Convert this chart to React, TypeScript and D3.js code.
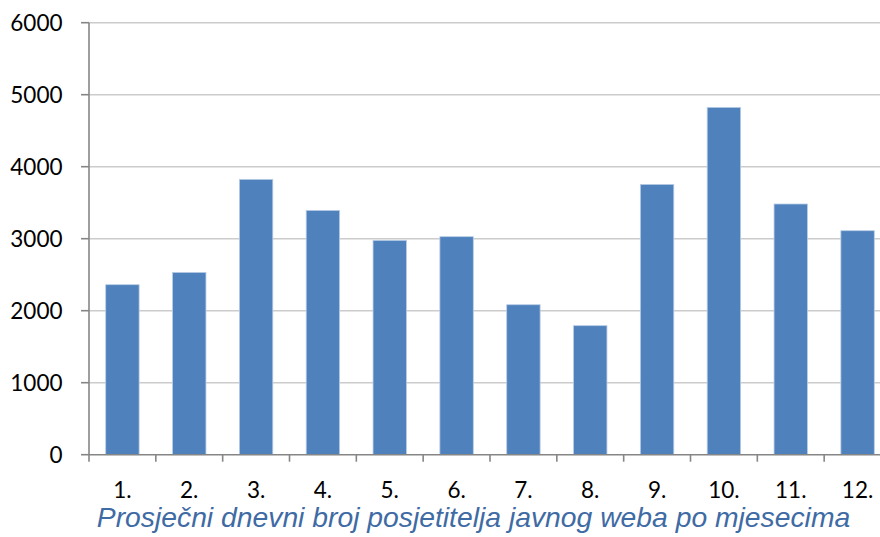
import React from "react";
import * as d3 from "d3";

const months = ["1.", "2.", "3.", "4.", "5.", "6.", "7.", "8.", "9.", "10.", "11.", "12."];
const visitors = [2361, 2532, 3824, 3393, 2977, 3028, 2083, 1792, 3754, 4824, 3482, 3111];
const yTicks = [0, 1000, 2000, 3000, 4000, 5000, 6000];
const title = "Prosječni dnevni broj posjetitelja javnog weba po mjesecima";

export default function App() {
  const W = 880, H = 537;
  const left = 89, right = 891, top = 22.7, bottom = 454.7;
  const x = d3.scaleBand<string>().domain(months).range([left, right]).paddingInner(0.5).paddingOuter(0.25);
  const y = d3.scaleLinear().domain([0, 6000]).range([bottom, top]);
  const step = x.step();
  const font = "Lato, 'Open Sans', sans-serif";
  return (
    <svg width={W} height={H} style={{ position: "absolute", left: 0, top: 0, background: "#fff" }}>
      {yTicks.map((t) => (
        <g key={t}>
          {t > 0 && <line x1={left} x2={right} y1={y(t)} y2={y(t)} stroke="#cccccc" strokeWidth={1.6} />}
          <line x1={left - 8} x2={left} y1={y(t)} y2={y(t)} stroke="#868686" strokeWidth={1.6} />
          <text x={62.5} y={y(t)} dy="0.36em" textAnchor="end" fontFamily={font} fontSize={22.5} fill="#000">{t}</text>
        </g>
      ))}
      {months.map((m, i) => (
        <rect key={m} x={x(m)!} y={y(visitors[i])} width={x.bandwidth()} height={bottom - y(visitors[i])}
          fill="#4F81BD" stroke="#B9CDE5" strokeWidth={0.8} />
      ))}
      <line x1={left} x2={left} y1={top} y2={bottom} stroke="#868686" strokeWidth={1.6} />
      <line x1={left} x2={right} y1={bottom} y2={bottom} stroke="#868686" strokeWidth={1.6} />
      {months.map((m, i) => (
        <line key={"t" + m} x1={left + i * step} x2={left + i * step} y1={bottom} y2={bottom + 7} stroke="#868686" strokeWidth={1.6} />
      ))}
      <line x1={right} x2={right} y1={bottom} y2={bottom + 7} stroke="#868686" strokeWidth={1.6} />
      {months.map((m) => (
        <text key={"l" + m} x={x(m)! + x.bandwidth() / 2} y={498} textAnchor="middle" fontFamily={font} fontSize={22.5} fill="#000">{m}</text>
      ))}
      <text x={473.5} y={527} textAnchor="middle" fontFamily="'Liberation Sans', Arial, sans-serif" fontStyle="italic" fontSize={28.3} fill="#3F6BA5">{title}</text>
    </svg>
  );
}
